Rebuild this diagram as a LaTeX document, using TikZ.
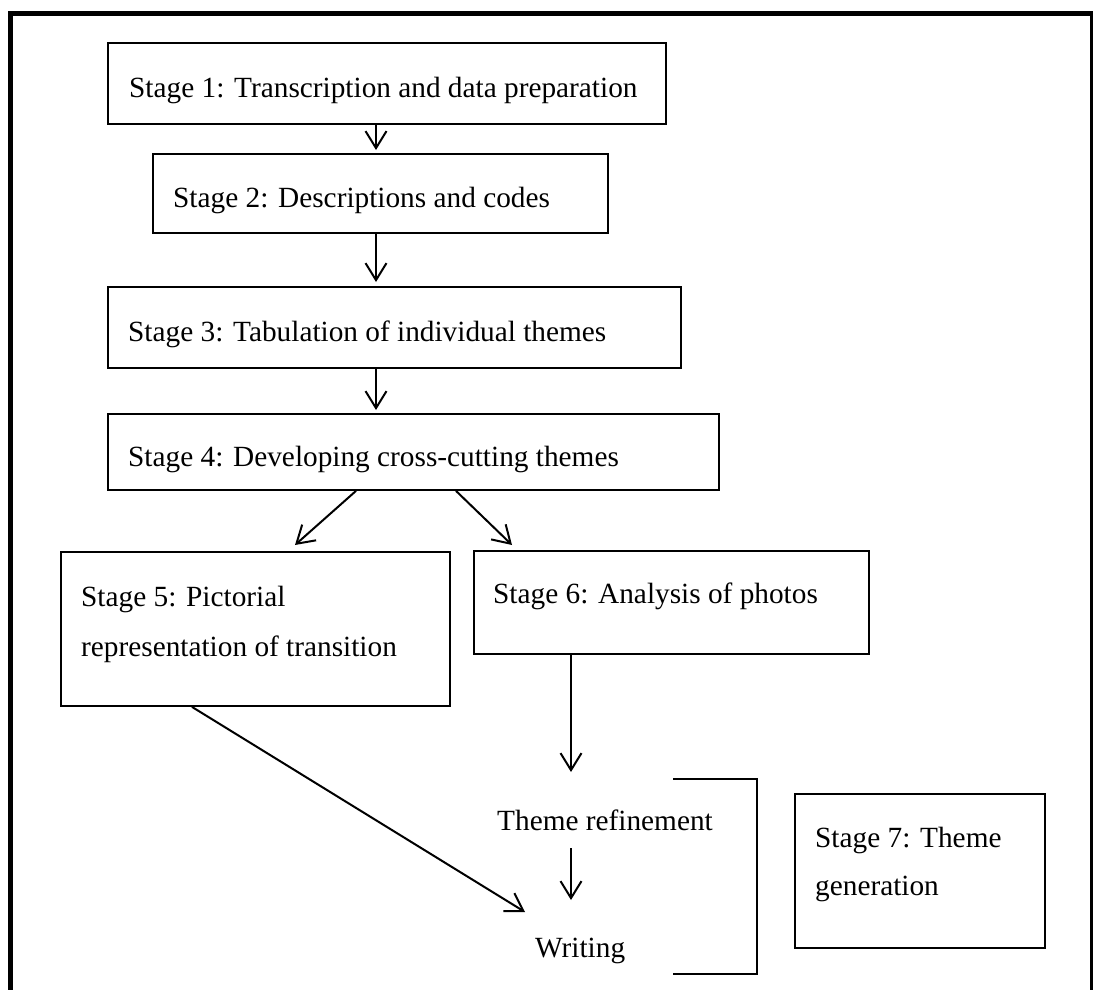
\documentclass[tikz,border=0pt]{standalone}
\usepackage{fontspec}
\setmainfont{Liberation Serif}
\usetikzlibrary{arrows.meta,calc}

\begin{document}
\begin{tikzpicture}[x=1pt,y=-1pt,
  box/.style={draw,line width=1.9pt,rectangle,inner sep=0pt,anchor=north west},
  lbl/.style={anchor=base west,inner sep=0pt,font=\fontsize{29.3}{35}\selectfont},
  arr/.style={line width=2pt,-{Straight Barb[length=17pt,width=21pt,line width=2pt]}},
]
\useasboundingbox (0,0) rectangle (1093,990);
\clip (0,0) rectangle (1093,990);

% outer frame
\draw[line width=5pt] (10,1000) -- (10,13.5) -- (1092.5,13.5) -- (1092.5,1000);

% stage boxes
\node[box,minimum width=558pt,minimum height=81pt]  (s1) at (107,42)  {};
\node[box,minimum width=455pt,minimum height=79pt]  (s2) at (152,153) {};
\node[box,minimum width=573pt,minimum height=81pt]  (s3) at (107,286) {};
\node[box,minimum width=611pt,minimum height=76pt]  (s4) at (107,413) {};
\node[box,minimum width=389pt,minimum height=154pt] (s5) at (60,551)  {};
\node[box,minimum width=395pt,minimum height=103pt] (s6) at (473,550) {};
\node[box,minimum width=250pt,minimum height=154pt] (s7) at (794,793) {};

% box texts
\node[lbl] (t1)  at (129,97)  {Stage 1: Transcription and data preparation};
\node[lbl] (t2)  at (173,207) {Stage 2: Descriptions and codes};
\node[lbl] (t3)  at (128,341) {Stage 3: Tabulation of individual themes};
\node[lbl] (t4)  at (128,466) {Stage 4: Developing cross-cutting themes};
\node[lbl] (t5a) at (81,606)  {Stage 5: Pictorial};
\node[lbl] (t5b) at (81,656)  {representation of transition};
\node[lbl] (t6)  at (493,603) {Stage 6: Analysis of photos};
\node[lbl] (t7a) at (815,847) {Stage 7: Theme};
\node[lbl] (t7b) at (815,895) {generation};

% free-standing steps
\node[lbl] (tr) at (497,830) {Theme refinement};
\node[lbl] (wr) at (535,957) {Writing};

% vertical guide positions
\coordinate (ax) at (376,0);
\coordinate (ay) at (571,0);

% connectors
\draw[arr] (s1.south -| ax) -- ([yshift=3pt]s2.north -| ax);
\draw[arr] (s2.south -| ax) -- ([yshift=4pt]s3.north -| ax);
\draw[arr] (s3.south -| ax) -- ([yshift=3pt]s4.north -| ax);
\draw[arr] ($(s4.south west)+(249,0)$) -- ($(s5.north west)+(235,-6)$);
\draw[arr] ($(s4.south west)+(349,0)$) -- ($(s6.north west)+(39,-5)$);
\draw[arr] (s6.south -| ay) -- ($(tr.base -| ay)+(0,-58)$);
\draw[arr] ($(tr.base -| ay)+(0,18)$) -- ($(wr.base -| ay)+(0,-57)$);
\draw[arr] ($(s5.south west)+(132,0)$) -- ($(wr.base west)+(-10,-45)$);

% bracket grouping refinement and writing
\draw[line width=1.9pt] (673,779) -- (757,779) -- (757,974) -- (673,974);
\end{tikzpicture}
\end{document}
